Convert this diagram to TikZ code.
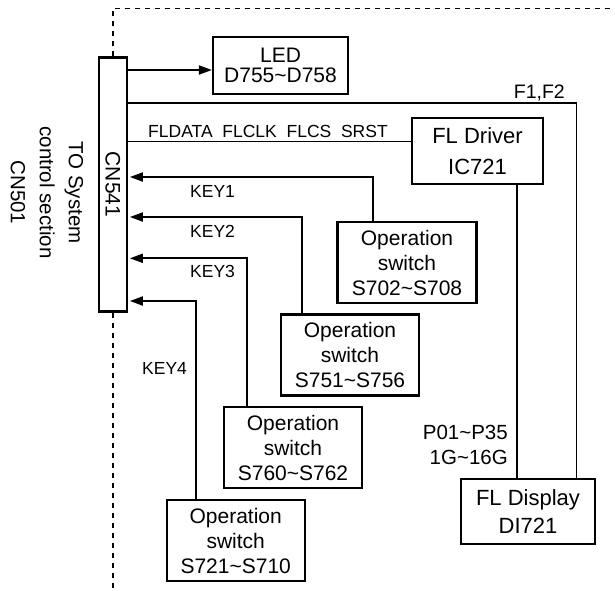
\documentclass[tikz,border=0pt]{standalone}
\usepackage{fontspec}
\setmainfont{Liberation Sans}
\usetikzlibrary{arrows.meta}
\begin{document}
\begin{tikzpicture}[x=1pt,y=-1pt,
  box/.style={draw, line width=2.2pt, inner sep=0pt, align=center, font=\fontsize{21}{25}\selectfont},
  wire/.style={line width=1.9pt},
  arr/.style={wire, -{Triangle[length=13pt,width=9pt]}},
  lbl/.style={inner sep=0pt, font=\fontsize{17.5}{21}\selectfont},
  plbl/.style={inner sep=0pt, font=\fontsize{20.5}{25}\selectfont},
  dashline/.style={line width=1.8pt, dash pattern=on 5pt off 5pt}]
\useasboundingbox (0,0) rectangle (615,590);

% connector block
\node[box, minimum width=28pt, minimum height=254pt] (cn) at (112.75,184.5) {};
\node[rotate=-90, inner sep=0pt, font=\fontsize{21}{25}\selectfont] (cnlbl) at (cn.center) {CN541};
\node[rotate=-90, inner sep=0pt, align=center, font=\fontsize{20.5}{29}\selectfont] (sys) at (47,192.5) {TO System\\control section\\CN501};

% boxes
\node[box, minimum width=135pt, minimum height=57pt, font=\fontsize{21}{20}\selectfont] (led) at (280.5,65.5) {LED\\D755\textasciitilde D758};
\node[box, minimum width=131pt, minimum height=66pt, font=\fontsize{22}{30.5}\selectfont] (drv) at (477.5,151) {FL Driver\\IC721};
\node[box, minimum width=134pt, minimum height=65pt, font=\fontsize{22}{27.5}\selectfont] (disp) at (528,511.5) {FL Display\\DI721};
\node[box, minimum width=139pt, minimum height=81pt] (sw1) at (407,262.5) {Operation\\switch\\S702\textasciitilde S708};
\node[box, minimum width=138pt, minimum height=81pt] (sw2) at (350,355) {Operation\\switch\\S751\textasciitilde S756};
\node[box, minimum width=138pt, minimum height=81pt] (sw3) at (293,447.5) {Operation\\switch\\S760\textasciitilde S762};
\node[box, minimum width=138pt, minimum height=81pt] (sw4) at (235.7,540.5) {Operation\\switch\\S721\textasciitilde S710};

% channel coordinates
\coordinate (ledin) at ([yshift=-4.5pt]led.west);
\coordinate (fch) at (576.5,103);
\coordinate (dch) at (0,141.5);
\coordinate (pch) at (517,0);
\coordinate (k1) at (373,177);
\coordinate (k2) at (302,217);
\coordinate (k3) at (247,258.3);
\coordinate (k4) at (196,301);
\coordinate (dtop) at (615,8.5);
\coordinate (dbot) at (0,590);

% dashed boundary
\draw[dashline] (cn.north) |- (dtop);
\draw[dashline] (cn.south) -- (cn.south |- dbot);

% connectors
\draw[arr] (cn.east |- ledin) -- (ledin);
\draw[wire] (cn.east |- fch) -| (disp.north -| fch);
\draw[wire] (cn.east |- dch) -- (drv.west |- dch);
\draw[wire] (drv.south -| pch) -- (disp.north -| pch);
\draw[arr] (sw1.north -| k1) |- ([xshift=2pt]cn.east |- k1);
\draw[arr] (sw2.north -| k2) |- ([xshift=2pt]cn.east |- k2);
\draw[arr] (sw3.north -| k3) |- ([xshift=2pt]cn.east |- k3);
\draw[arr] (sw4.north -| k4) |- ([xshift=2pt]cn.east |- k4);

% labels
\node[lbl, anchor=base west] (k1l) at (190,197) {KEY1};
\node[lbl, anchor=base west] (k2l) at (190,237) {KEY2};
\node[lbl, anchor=base west] (k3l) at (190,277) {KEY3};
\node[lbl, anchor=base west] (k4l) at (142,374) {KEY4};
\node[lbl, anchor=base west] (fll) at (148,137) {FLDATA\ \ FLCLK\ \ FLCS\ \ SRST};
\node[inner sep=0pt, font=\fontsize{19.5}{22}\selectfont, anchor=base east] (f12) at (565,98) {F1,F2};
\node[plbl, anchor=base east] (p1) at (508,439) {P01\textasciitilde P35};
\node[plbl, anchor=base east] (p2) at (508,464) {1G\textasciitilde 16G};
\end{tikzpicture}
\end{document}
